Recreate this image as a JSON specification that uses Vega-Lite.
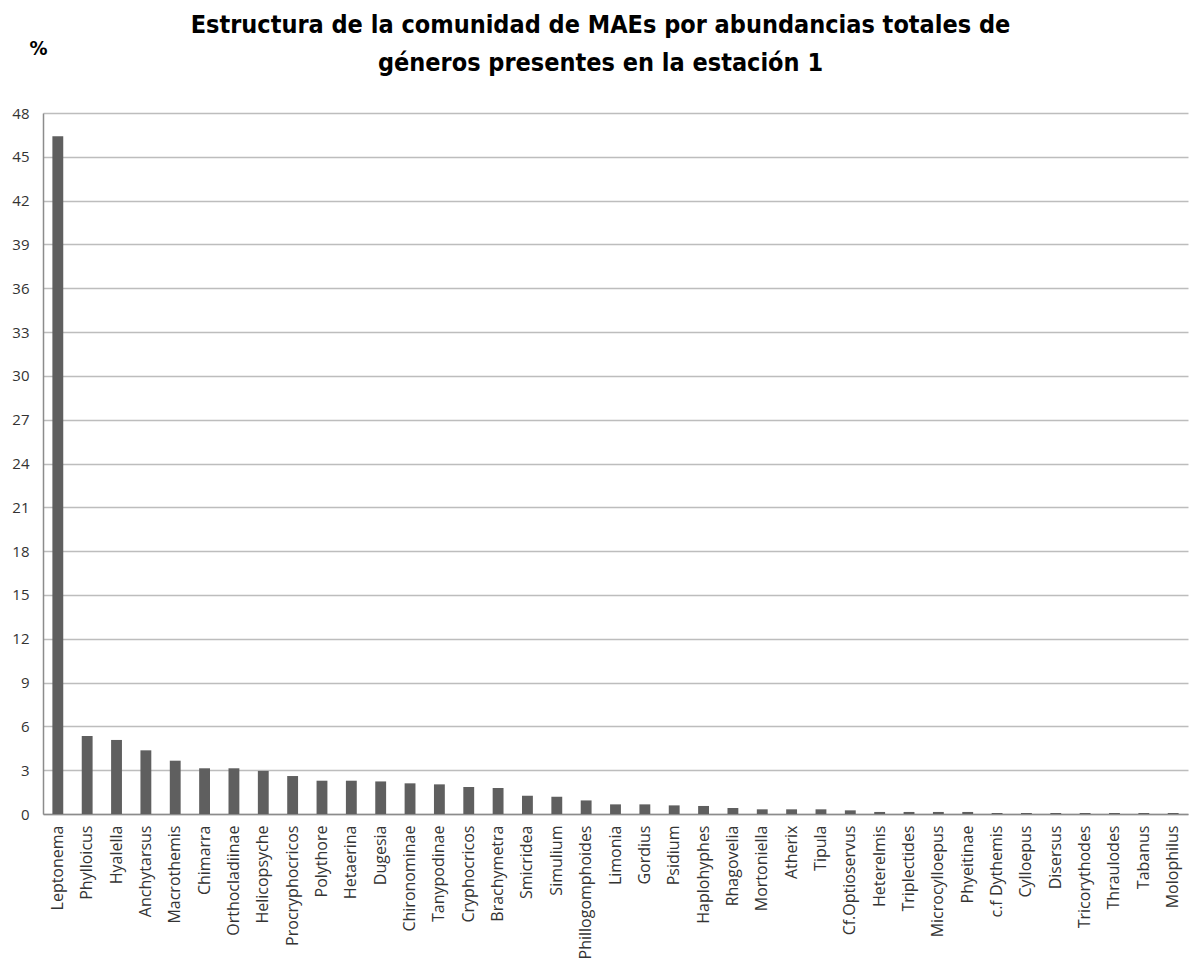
{
  "$schema": "https://vega.github.io/schema/vega-lite/v6.json",
  "width": 1145,
  "height": 701,
  "autosize": {"type": "none"},
  "padding": {"left": 43, "top": 113, "right": 4, "bottom": 159},
  "background": "white",
  "title": {
    "text": ["Estructura de la comunidad de MAEs  por abundancias totales  de", "géneros presentes en la estación 1"],
    "anchor": "middle",
    "dx": -15,
    "dy": 42,
    "font": "DejaVu Sans Condensed, Liberation Sans, sans-serif",
    "fontSize": 25,
    "fontWeight": "bold",
    "lineHeight": 38,
    "color": "#000000"
  },
  "data": {
    "values": [
      {"genero": "Leptonema", "pct": 46.4},
      {"genero": "Phylloicus", "pct": 5.34},
      {"genero": "Hyalella", "pct": 5.07},
      {"genero": "Anchytarsus", "pct": 4.36},
      {"genero": "Macrothemis", "pct": 3.65},
      {"genero": "Chimarra", "pct": 3.13},
      {"genero": "Orthocladiinae", "pct": 3.13},
      {"genero": "Helicopsyche", "pct": 2.95},
      {"genero": "Procryphocricos", "pct": 2.6},
      {"genero": "Polythore", "pct": 2.28},
      {"genero": "Hetaerina", "pct": 2.28},
      {"genero": "Dugesia", "pct": 2.23},
      {"genero": "Chironominae", "pct": 2.1},
      {"genero": "Tanypodinae", "pct": 2.03},
      {"genero": "Cryphocricos", "pct": 1.85},
      {"genero": "Brachymetra", "pct": 1.78},
      {"genero": "Smicridea", "pct": 1.25},
      {"genero": "Simulium", "pct": 1.18},
      {"genero": "Phillogomphoides", "pct": 0.93},
      {"genero": "Limonia", "pct": 0.66},
      {"genero": "Gordius", "pct": 0.66},
      {"genero": "Psidium", "pct": 0.59},
      {"genero": "Haplohyphes", "pct": 0.55},
      {"genero": "Rhagovelia", "pct": 0.41},
      {"genero": "Mortoniella", "pct": 0.32},
      {"genero": "Atherix", "pct": 0.32},
      {"genero": "Tipula", "pct": 0.32},
      {"genero": "Cf.Optioservus", "pct": 0.25},
      {"genero": "Heterelmis", "pct": 0.14},
      {"genero": "Triplectides", "pct": 0.14},
      {"genero": "Microcylloepus", "pct": 0.14},
      {"genero": "Phyeitinae", "pct": 0.14},
      {"genero": "c.f Dythemis", "pct": 0.07},
      {"genero": "Cylloepus", "pct": 0.07},
      {"genero": "Disersus", "pct": 0.07},
      {"genero": "Tricorythodes", "pct": 0.07},
      {"genero": "Thraulodes", "pct": 0.07},
      {"genero": "Tabanus", "pct": 0.07},
      {"genero": "Molophilus", "pct": 0.07}
    ]
  },
  "mark": {"type": "bar", "color": "#5f5f5f"},
  "encoding": {
    "x": {
      "field": "genero",
      "type": "nominal",
      "sort": null,
      "scale": {"paddingInner": 0.63, "paddingOuter": 0.32},
      "axis": {
        "title": null,
        "labelAngle": -90,
        "labelFont": "Open Sans",
        "labelFontSize": 16,
        "labelColor": "#333333",
        "labelPadding": 11,
        "ticks": false,
        "domainColor": "#8c8c8c",
        "domainWidth": 1.5,
        "labelLimit": 300
      }
    },
    "y": {
      "field": "pct",
      "type": "quantitative",
      "scale": {"domain": [0, 48], "nice": false},
      "axis": {
        "values": [0, 3, 6, 9, 12, 15, 18, 21, 24, 27, 30, 33, 36, 39, 42, 45, 48],
        "title": "%",
        "titleAngle": 0,
        "titleX": -5,
        "titleY": -65,
        "titleAlign": "center",
        "titleBaseline": "middle",
        "titleFont": "DejaVu Sans Condensed, Liberation Sans, sans-serif",
        "titleFontSize": 20,
        "titleFontWeight": "bold",
        "titleColor": "#000000",
        "labelFont": "Open Sans",
        "labelFontSize": 15,
        "labelColor": "#333333",
        "labelPadding": 14,
        "ticks": false,
        "domainColor": "#8c8c8c",
        "domainWidth": 1.5,
        "grid": true,
        "gridColor": "#bdbdbd",
        "gridWidth": 1.5
      }
    }
  },
  "config": {"view": {"stroke": null}}
}
